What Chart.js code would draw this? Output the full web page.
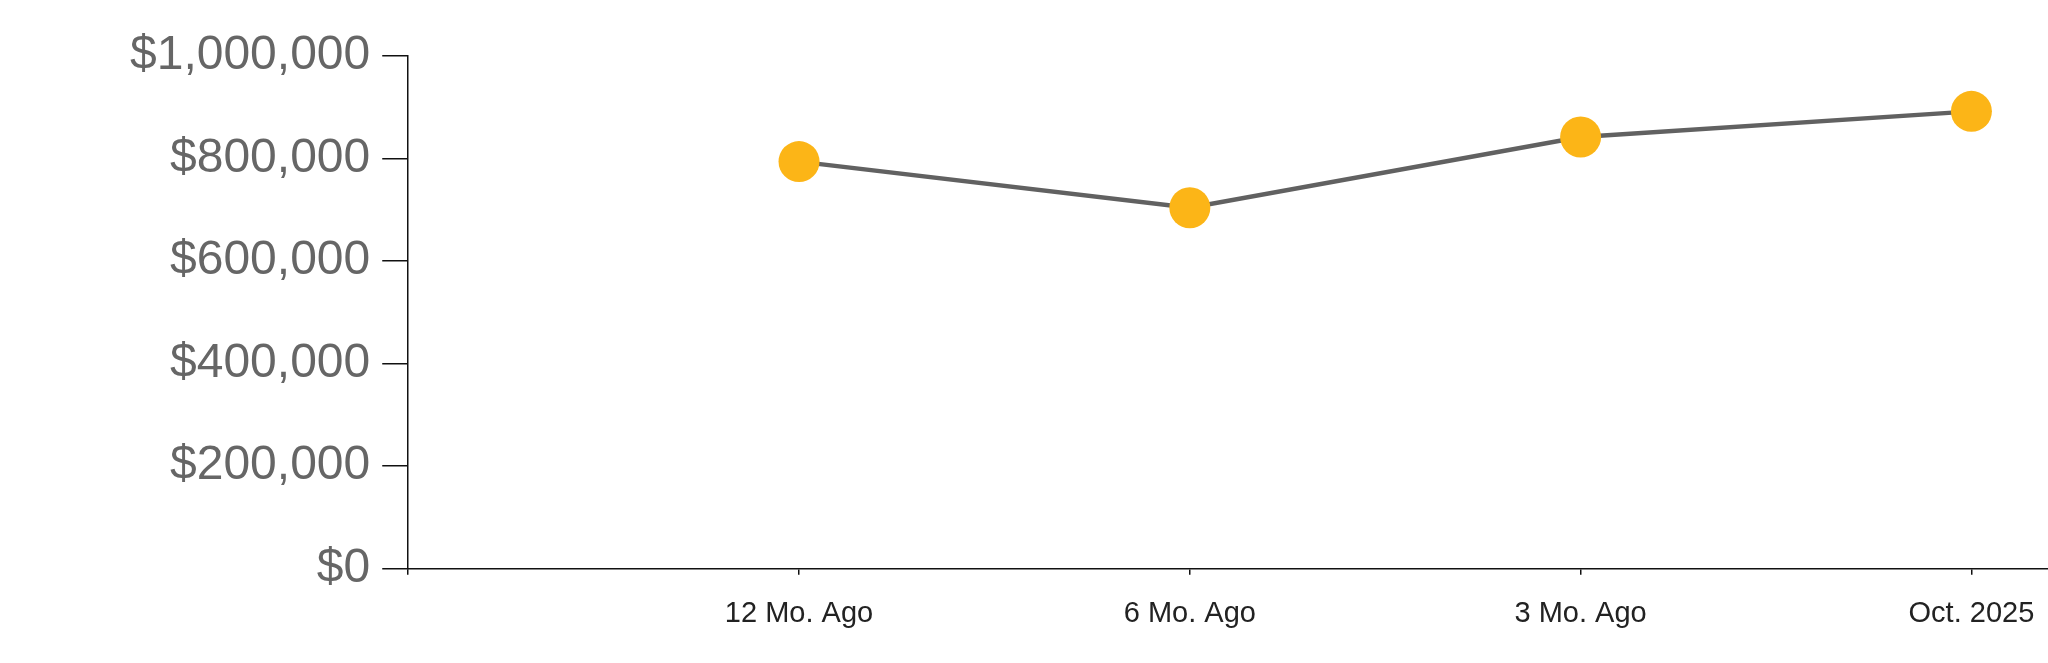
<!DOCTYPE html>
<html>
<head>
<meta charset="utf-8">
<script src="https://cdn.jsdelivr.net/npm/chart.js@4"></script>
<style>
  html, body { margin: 0; padding: 0; background: #fff; overflow: hidden; }
  canvas { display: block; }
</style>
</head>
<body>
<canvas id="c" width="2048" height="663" style="width:2048px;height:663px"></canvas>
<script>
const categories = ["", "12 Mo. Ago", "6 Mo. Ago", "3 Mo. Ago", "Oct. 2025"];
const values = [null, 794000, 704000, 842000, 892000];
const yTicks = [0, 200000, 400000, 600000, 800000, 1000000];

const points = [];
values.forEach((v, i) => { if (v !== null) points.push({ x: i, y: v }); });

const fam = "'Liberation Sans', Arial, sans-serif";

new Chart(document.getElementById('c'), {
  type: 'line',
  data: {
    datasets: [{
      data: points,
      borderColor: '#616161',
      borderWidth: 4.5,
      pointRadius: 20.5,
      pointHoverRadius: 20.5,
      pointBackgroundColor: '#FCB517',
      pointBorderColor: '#FCB517',
      pointBorderWidth: 0,
      tension: 0,
      fill: false,
      clip: false
    }]
  },
  options: {
    responsive: false,
    maintainAspectRatio: false,
    devicePixelRatio: 1,
    animation: false,
    layout: { autoPadding: false, padding: { left: 118, right: 0, top: 56, bottom: 9.5 } },
    plugins: { legend: { display: false }, tooltip: { enabled: false } },
    scales: {
      x: {
        type: 'linear',
        bounds: 'data',
        min: 0,
        max: 4.196,
        afterFit: (s) => { s.paddingRight = 0; s.paddingLeft = 0; },
        border: { display: true, color: '#111', width: 1.5 },
        grid: { display: true, drawOnChartArea: false, drawTicks: true, tickLength: 6, color: '#111', lineWidth: 1.5 },
        ticks: {
          stepSize: 1,
          includeBounds: false,
          autoSkip: false,
          maxRotation: 0,
          padding: 22,
          color: '#222',
          font: { family: fam, size: 29 },
          callback: (v) => (Number.isInteger(v) && categories[v] !== undefined) ? categories[v] : ''
        }
      },
      y: {
        min: yTicks[0],
        max: yTicks[yTicks.length - 1],
        afterBuildTicks: (axis) => { axis.ticks = yTicks.map(v => ({ value: v })); },
        border: { display: true, color: '#111', width: 1.5 },
        grid: { display: true, drawOnChartArea: false, drawTicks: true, tickLength: 26, color: '#111', lineWidth: 1.5 },
        ticks: {
          padding: 12,
          color: '#666',
          font: { family: fam, size: 48 },
          callback: (v) => '$' + Number(v).toLocaleString('en-US')
        }
      }
    }
  }
});
</script>
</body>
</html>
